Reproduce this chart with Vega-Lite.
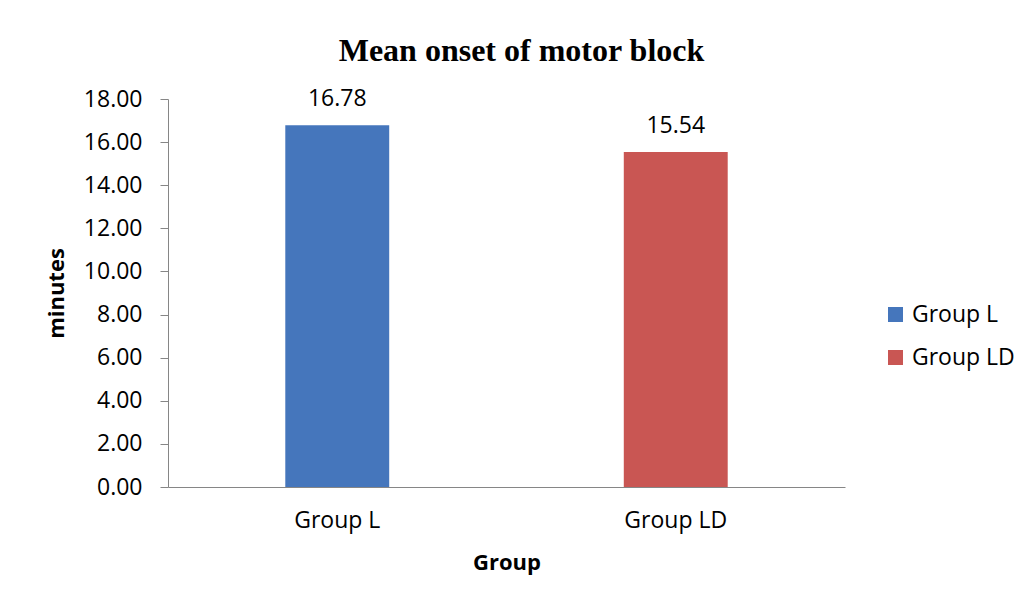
{
  "$schema": "https://vega.github.io/schema/vega-lite/v6.json",
  "autosize": {"type": "none"},
  "padding": {"left": 168, "top": 99, "right": 179, "bottom": 116},
  "width": 677,
  "height": 388,
  "background": "white",
  "title": {
    "text": "Mean onset of motor block",
    "font": "Liberation Serif",
    "fontSize": 32,
    "fontWeight": "bold",
    "color": "black",
    "anchor": "middle",
    "dx": 15,
    "offset": 20
  },
  "data": {
    "values": [
      {"group": "Group L", "minutes": 16.78},
      {"group": "Group LD", "minutes": 15.54}
    ]
  },
  "encoding": {
    "x": {
      "field": "group",
      "type": "nominal",
      "sort": null,
      "scale": {"paddingInner": 0, "paddingOuter": 0},
      "axis": {
        "title": "Group",
        "labelAngle": 0,
        "ticks": false,
        "labelPadding": 22,
        "titlePadding": 20
      }
    },
    "y": {
      "field": "minutes",
      "type": "quantitative",
      "scale": {"domain": [0, 18], "nice": false},
      "axis": {
        "title": "minutes",
        "format": ".2f",
        "values": [0, 2, 4, 6, 8, 10, 12, 14, 16, 18],
        "grid": false,
        "tickSize": 8,
        "labelPadding": 18,
        "titlePadding": 15
      }
    }
  },
  "layer": [
    {
      "mark": {"type": "bar", "width": {"band": 0.307}},
      "encoding": {
        "color": {
          "field": "group",
          "type": "nominal",
          "scale": {"domain": ["Group L", "Group LD"], "range": ["#4576BC", "#C95653"]},
          "legend": {
            "title": null,
            "orient": "none",
            "legendX": 716,
            "legendY": 204,
            "symbolType": "square",
            "symbolSize": 225,
            "symbolStrokeWidth": 0,
            "labelFontSize": 23,
            "labelFont": "Open Sans",
            "labelColor": "black",
            "labelOffset": 5,
            "rowPadding": 19
          }
        }
      }
    },
    {
      "mark": {"type": "text", "dy": -19, "baseline": "alphabetic", "font": "Open Sans", "fontSize": 23, "color": "black"},
      "encoding": {
        "text": {"field": "minutes", "type": "quantitative", "format": ".2f"}
      }
    }
  ],
  "config": {
    "view": {"stroke": null},
    "axis": {
      "domainColor": "#868686",
      "tickColor": "#868686",
      "labelFont": "Open Sans",
      "labelFontSize": 23,
      "labelColor": "black",
      "titleFont": "Open Sans",
      "titleFontSize": 22,
      "titleFontWeight": "bold",
      "titleColor": "black"
    }
  }
}
